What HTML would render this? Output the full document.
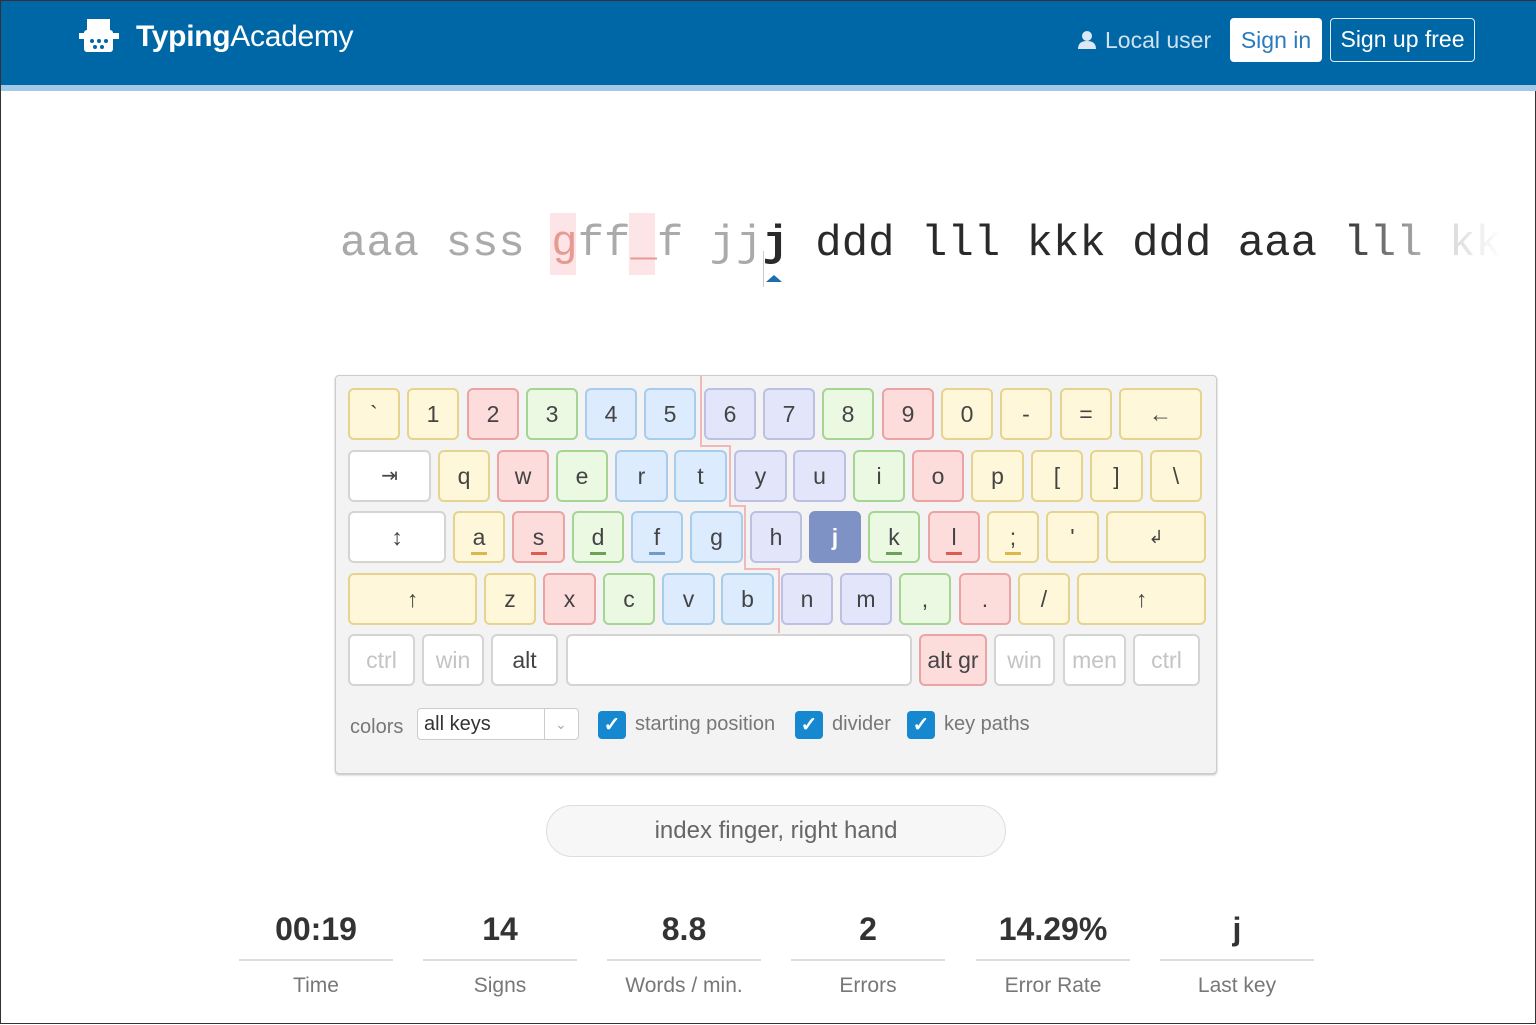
<!DOCTYPE html>
<html><head><meta charset="utf-8"><style>
*{box-sizing:border-box;margin:0;padding:0}
body{width:1536px;height:1024px;position:relative;background:#fff;font-family:"Liberation Sans",sans-serif;overflow:hidden;border:1px solid #333}
.hdr{position:absolute;left:0;top:0;width:1536px;height:84px;background:#0067a6}
.hb{position:absolute;left:0;top:84px;width:1536px;height:6px;background:#a3c8e8}
.k{position:absolute;height:52px;border:2px solid;border-radius:6px;text-align:center;line-height:48px;font-size:23px;color:#444}
.Y{background:#fff7d9;border-color:#e6d48e}
.R{background:#fddcdc;border-color:#eba3a3}
.G{background:#ebf8e2;border-color:#a5d593}
.B{background:#dcebfd;border-color:#a7cdea}
.P{background:#e3e6fb;border-color:#bcc0e2}
.W{background:#fff;border-color:#d4d4d4}
.Wg{background:#fff;border-color:#d4d4d4;color:#c4c4c4}
.u{position:absolute;left:50%;margin-left:-8px;bottom:6px;width:16px;height:3px}
.r1{top:387px}.r2{top:449px}.r3{top:510px}.r4{top:572px}.r5{top:633px}
.txt{position:absolute;top:213px;left:339px;width:1170px;overflow:hidden;font-family:"Liberation Mono",monospace;font-size:44px;line-height:60px;white-space:pre;color:#2a2a2a}
.cb{position:absolute;top:710px;width:28px;height:28px;background:#1688d0;border-radius:4px;color:#fff;font-size:20px;text-align:center;line-height:28px;font-weight:bold}
.lbl{position:absolute;top:710px;font-size:20px;color:#777;line-height:26px}
.st{position:absolute;width:154px;text-align:center}
.st .n{font-size:32px;font-weight:bold;color:#333;height:55px;line-height:50px}
.st .l{border-top:2px solid #ddd;font-size:21px;color:#777;padding-top:13px}
</style></head><body>
<div class="hdr"></div><div class="hb"></div>
<svg style="position:absolute;left:78px;top:16px" width="40" height="38"><rect x="8" y="2" width="23" height="12" fill="#fff"/><rect x="5" y="13" width="29" height="22" rx="3" fill="#fff"/><rect x="0" y="16" width="6" height="6" fill="#fff"/><rect x="34" y="16" width="6" height="6" fill="#fff"/><g fill="#0067a6"><circle cx="13" cy="24" r="2"/><circle cx="20" cy="24" r="2"/><circle cx="27" cy="24" r="2"/><circle cx="16" cy="30" r="2"/><circle cx="23" cy="30" r="2"/></g></svg>
<div style="position:absolute;left:135px;top:16px;font-size:30px;color:#fff;line-height:40px;letter-spacing:-0.3px"><b>Typing</b>Academy</div>
<svg style="position:absolute;left:1076px;top:29px" width="20" height="20"><circle cx="10" cy="6" r="5" fill="#dce9f5"/><path d="M1 19 Q1 11 10 11 Q19 11 19 19Z" fill="#dce9f5"/></svg>
<div style="position:absolute;left:1104px;top:24px;font-size:23px;color:#cfe2f2;line-height:30px">Local user</div>
<div style="position:absolute;left:1229px;top:17px;width:92px;height:44px;background:#fff;border-radius:4px;color:#2a7bbd;font-size:23px;text-align:center;line-height:44px">Sign in</div>
<div style="position:absolute;left:1329px;top:17px;width:145px;height:44px;border:1.5px solid #e0ecf6;border-radius:4px;color:#fff;font-size:23px;text-align:center;line-height:41px">Sign up free</div>

<div style="position:absolute;left:549px;top:212px;width:26px;height:62px;background:#fde4e6"></div>
<div style="position:absolute;left:628px;top:212px;width:26px;height:62px;background:#fde4e6"></div>
<div class="txt"><span style="color:#aaa">aaa sss </span><span style="color:#e59a92">g</span><span style="color:#aaa">ff</span><span style="color:#e59a92">_</span><span style="color:#aaa">f jj</span><b>j</b> ddd lll kkk ddd aaa lll kkk</div>
<div style="position:absolute;left:762px;top:250px;width:1px;height:36px;background:#ccc"></div>
<div style="position:absolute;left:765px;top:274px;width:0;height:0;border-left:8px solid transparent;border-right:8px solid transparent;border-bottom:7px solid #1b6fb0"></div>
<div style="position:absolute;left:1340px;top:205px;width:170px;height:80px;background:linear-gradient(90deg,rgba(255,255,255,0),rgba(255,255,255,.8) 60%,#fff 95%)"></div>

<div style="position:absolute;left:334px;top:374px;width:882px;height:399px;background:#f3f3f3;border:1.5px solid #ccc;border-radius:4px;box-shadow:0 1px 2px #bbb"></div>
<svg style="position:absolute;left:0;top:0" width="1536" height="1024"><polyline points="700,375 700,445 729,445 729,505 744,505 744,568 778,568 778,632" fill="none" stroke="#f0b8b8" stroke-width="2"/></svg>

<div class="k Y r1" style="left:347px;width:52px">`</div>
<div class="k Y r1" style="left:406px;width:52px">1</div>
<div class="k R r1" style="left:466px;width:52px">2</div>
<div class="k G r1" style="left:525px;width:52px">3</div>
<div class="k B r1" style="left:584px;width:52px">4</div>
<div class="k B r1" style="left:643px;width:52px">5</div>
<div class="k P r1" style="left:703px;width:52px">6</div>
<div class="k P r1" style="left:762px;width:52px">7</div>
<div class="k G r1" style="left:821px;width:52px">8</div>
<div class="k R r1" style="left:881px;width:52px">9</div>
<div class="k Y r1" style="left:940px;width:52px">0</div>
<div class="k Y r1" style="left:999px;width:52px">-</div>
<div class="k Y r1" style="left:1059px;width:52px">=</div>
<div class="k Y r1" style="left:1118px;width:83px">&#8592;</div>

<div class="k W r2" style="left:347px;width:83px;font-size:20px">&#8677;</div>
<div class="k Y r2" style="left:437px;width:52px">q</div>
<div class="k R r2" style="left:496px;width:52px">w</div>
<div class="k G r2" style="left:555px;width:52px">e</div>
<div class="k B r2" style="left:614px;width:53px">r</div>
<div class="k B r2" style="left:673px;width:53px">t</div>
<div class="k P r2" style="left:733px;width:53px">y</div>
<div class="k P r2" style="left:792px;width:53px">u</div>
<div class="k G r2" style="left:852px;width:52px">i</div>
<div class="k R r2" style="left:911px;width:52px">o</div>
<div class="k Y r2" style="left:970px;width:53px">p</div>
<div class="k Y r2" style="left:1030px;width:52px">[</div>
<div class="k Y r2" style="left:1089px;width:53px">]</div>
<div class="k Y r2" style="left:1149px;width:52px">\</div>

<div class="k W r3" style="left:347px;width:98px">&#8597;</div>
<div class="k Y r3" style="left:452px;width:52px">a<span class="u" style="background:#dcb74e"></span></div>
<div class="k R r3" style="left:511px;width:53px">s<span class="u" style="background:#e05a50"></span></div>
<div class="k G r3" style="left:571px;width:52px">d<span class="u" style="background:#6aa257"></span></div>
<div class="k B r3" style="left:630px;width:52px">f<span class="u" style="background:#6e9cc8"></span></div>
<div class="k B r3" style="left:689px;width:53px">g</div>
<div class="k P r3" style="left:749px;width:52px">h</div>
<div class="k r3" style="left:808px;width:52px;background:#7f92c6;border-color:#7f92c6;color:#fff;font-weight:bold">j</div>
<div class="k G r3" style="left:867px;width:52px">k<span class="u" style="background:#6aa257"></span></div>
<div class="k R r3" style="left:927px;width:52px">l<span class="u" style="background:#e05a50"></span></div>
<div class="k Y r3" style="left:986px;width:52px">;<span class="u" style="background:#dcb74e"></span></div>
<div class="k Y r3" style="left:1045px;width:53px">'</div>
<div class="k Y r3" style="left:1105px;width:100px;font-size:18px">&#8626;</div>

<div class="k Y r4" style="left:347px;width:129px">&#8593;</div>
<div class="k Y r4" style="left:483px;width:52px">z</div>
<div class="k R r4" style="left:542px;width:53px">x</div>
<div class="k G r4" style="left:602px;width:52px">c</div>
<div class="k B r4" style="left:661px;width:53px">v</div>
<div class="k B r4" style="left:720px;width:53px">b</div>
<div class="k P r4" style="left:780px;width:52px">n</div>
<div class="k P r4" style="left:839px;width:52px">m</div>
<div class="k G r4" style="left:898px;width:52px">,</div>
<div class="k R r4" style="left:958px;width:52px">.</div>
<div class="k Y r4" style="left:1017px;width:52px">/</div>
<div class="k Y r4" style="left:1076px;width:129px">&#8593;</div>

<div class="k Wg r5" style="left:347px;width:67px">ctrl</div>
<div class="k Wg r5" style="left:421px;width:62px">win</div>
<div class="k W r5" style="left:490px;width:67px">alt</div>
<div class="k W r5" style="left:565px;width:346px"></div>
<div class="k R r5" style="left:918px;width:68px">alt gr</div>
<div class="k Wg r5" style="left:993px;width:61px">win</div>
<div class="k Wg r5" style="left:1062px;width:63px">men</div>
<div class="k Wg r5" style="left:1132px;width:67px">ctrl</div>

<div class="lbl" style="left:349px;top:713px">colors</div>
<div style="position:absolute;left:416px;top:707px;width:162px;height:32px;background:#fff;border:1px solid #ccc;border-radius:4px;font-size:20px;color:#333;line-height:30px;padding-left:6px">all keys<span style="position:absolute;left:126px;top:0;width:1px;height:30px;background:#ccc"></span><span style="position:absolute;left:137px;top:0;color:#aaa;font-size:14px">&#8964;</span></div>
<div class="cb" style="left:597px">&#10003;</div><div class="lbl" style="left:634px">starting position</div>
<div class="cb" style="left:794px">&#10003;</div><div class="lbl" style="left:831px">divider</div>
<div class="cb" style="left:906px">&#10003;</div><div class="lbl" style="left:943px">key paths</div>

<div style="position:absolute;left:545px;top:804px;width:460px;height:52px;border:1.5px solid #ddd;border-radius:26px;background:#f7f7f7;text-align:center;line-height:50px;font-size:24px;color:#666">index finger, right hand</div>

<div class="st" style="left:238px;top:903px"><div class="n">00:19</div><div class="l">Time</div></div>
<div class="st" style="left:422px;top:903px"><div class="n">14</div><div class="l">Signs</div></div>
<div class="st" style="left:606px;top:903px"><div class="n">8.8</div><div class="l">Words / min.</div></div>
<div class="st" style="left:790px;top:903px"><div class="n">2</div><div class="l">Errors</div></div>
<div class="st" style="left:975px;top:903px"><div class="n">14.29%</div><div class="l">Error Rate</div></div>
<div class="st" style="left:1159px;top:903px"><div class="n">j</div><div class="l">Last key</div></div>
</body></html>
